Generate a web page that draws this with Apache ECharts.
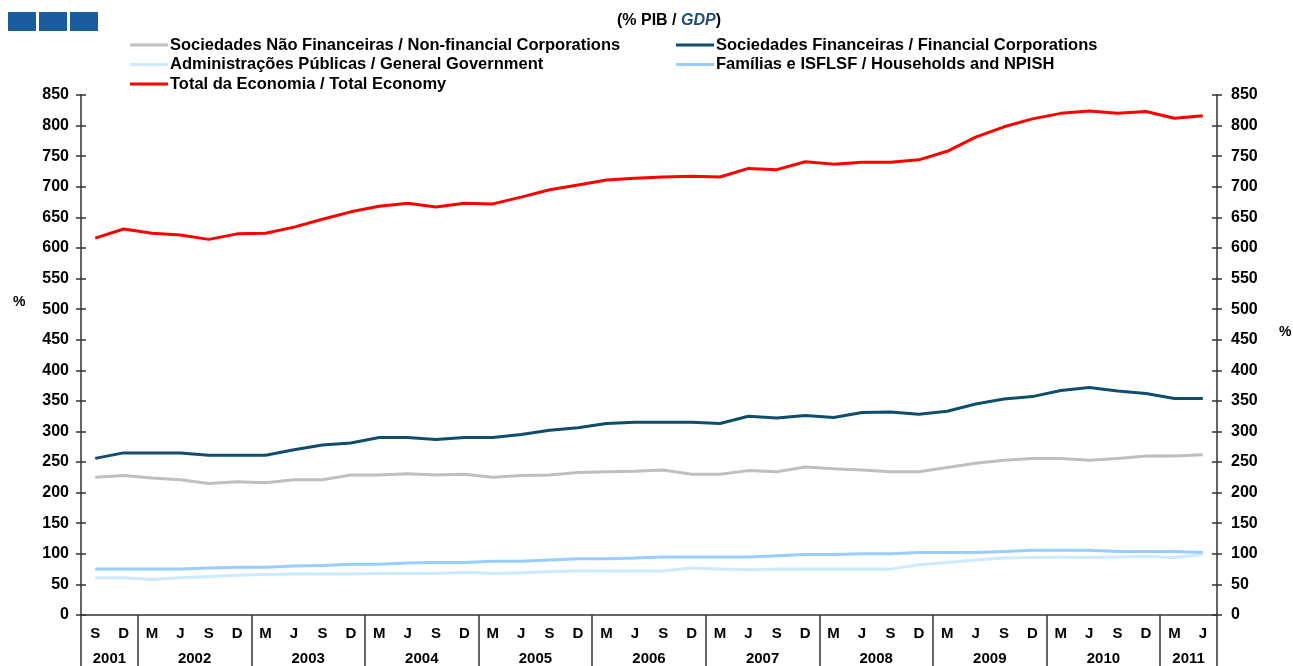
<!DOCTYPE html>
<html>
<head>
<meta charset="utf-8">
<script src="https://cdn.jsdelivr.net/npm/echarts@6/dist/echarts.min.js"></script>
<style>
html, body { margin: 0; padding: 0; background: #fff; }
#chart { width: 1293px; height: 666px; }
</style>
</head>
<body>
<div id="chart"></div>
<script>
// trimestres: S/D 2001, M/J/S/D 2002-2010, M/J 2011
var months = ['S','D',
  'M','J','S','D', 'M','J','S','D', 'M','J','S','D', 'M','J','S','D', 'M','J','S','D',
  'M','J','S','D', 'M','J','S','D', 'M','J','S','D', 'M','J','S','D',
  'M','J'];
var years = ['2001','2001',
  '2002','2002','2002','2002', '2003','2003','2003','2003', '2004','2004','2004','2004',
  '2005','2005','2005','2005', '2006','2006','2006','2006', '2007','2007','2007','2007',
  '2008','2008','2008','2008', '2009','2009','2009','2009', '2010','2010','2010','2010',
  '2011','2011'];

var naoFinanceiras = [225,228,224,221,215,218,216,221,221,229,229,231,229,230,
  225,228,229,233,234,235,237,230,230,236,234,242,
  239,237,234,234,241,248,253,256,256,253,256,260,260,262];
var financeiras = [256,265,265,265,261,261,261,270,278,281,290,290,287,290,
  290,295,302,306,313,315,315,315,313,325,322,326,
  323,331,332,328,333,345,353,357,367,372,366,362,354,354];
var adminPublicas = [61,61,58,61,63,65,66,67,67,67,68,68,68,
  70,68,69,71,72,72,72,72,77,75,74,75,75,
  75,75,75,82,86,90,93,94,95,94,95,96,94,99];
var familias = [75,75,75,75,77,78,78,80,81,83,83,85,86,
  86,88,88,90,92,92,93,95,95,95,95,97,99,
  99,100,100,102,102,102,104,106,106,106,104,104,104,102];
var totalEconomia = [616,631,624,621,614,623,624,634,647,659,668,673,667,673,
  672,683,695,703,711,714,716,717,716,730,728,741,
  737,740,740,744,758,781,798,811,820,824,820,823,812,816];

var names = [
  'Sociedades Não Financeiras / Non-financial Corporations',
  'Sociedades Financeiras / Financial Corporations',
  'Administrações Públicas / General Government',
  'Famílias e ISFLSF / Households and NPISH',
  'Total da Economia / Total Economy'
];

// limites e centros dos anos no eixo (em unidades de categoria)
var yearEdges = [0], yearCenters = [], yearLabels = [];
var start = 0;
for (var i = 1; i <= years.length; i++) {
  if (i == years.length || years[i] != years[start]) {
    yearEdges.push(i);
    yearCenters.push((start + i) / 2);
    yearLabels.push(years[start]);
    start = i;
  }
}

var font = 'Liberation Sans, Arial, sans-serif';
var axisColor = '#333';

function line(name, data, color) {
  return {
    name: name,
    type: 'line',
    data: data,
    symbol: 'none',
    showSymbol: false,
    color: color,
    lineStyle: { width: 3, color: color },
    animation: false
  };
}

var yBase = {
  type: 'value',
  min: 0,
  max: 850,
  interval: 50,
  splitLine: { show: false }
};

var legendText = { fontFamily: font, fontSize: 16.5, fontWeight: 'bold', color: '#000', lineHeight: 18, padding: [0, 0, 0, -3] };

var myChart = echarts.init(document.getElementById('chart'));
option = {
  backgroundColor: '#fff',
  textStyle: { fontFamily: font },
  title: {
    text: '(% PIB / {g|GDP})',
    left: 612,
    top: 8,
    textStyle: {
      fontFamily: font,
      fontSize: 16,
      fontWeight: 'bold',
      color: '#000',
      rich: {
        g: { fontFamily: font, fontSize: 16, fontWeight: 'bold', fontStyle: 'italic', color: '#1F4E79' }
      }
    }
  },
  legend: [{
    left: 125,
    top: 31,
    orient: 'vertical',
    icon: 'rect',
    itemWidth: 38,
    itemHeight: 3,
    itemGap: 1.5,
    textStyle: legendText,
    data: [names[0], names[2], names[4]]
  }, {
    left: 671,
    top: 31,
    orient: 'vertical',
    icon: 'rect',
    itemWidth: 38,
    itemHeight: 3,
    itemGap: 1.5,
    textStyle: legendText,
    data: [names[1], names[3]]
  }],
  grid: { left: 81, right: 76, top: 95, bottom: 51 },
  xAxis: [{
    type: 'category',
    data: months,
    boundaryGap: true,
    axisLine: { lineStyle: { color: axisColor, width: 1.5 } },
    axisTick: { interval: 0, length: 33, lineStyle: { color: axisColor, width: 1.5 } },
    axisLabel: { interval: 0, margin: 11, fontFamily: font, fontSize: 15, fontWeight: 'bold', color: '#000' },
    splitLine: { show: false }
  }, {
    type: 'value',
    position: 'bottom',
    min: 0,
    max: years.length,
    axisLine: { show: false },
    splitLine: { show: false },
    axisTick: { show: true, customValues: yearEdges, length: 51, lineStyle: { color: axisColor, width: 1.5 } },
    axisLabel: {
      customValues: yearCenters,
      margin: 36,
      fontFamily: font, fontSize: 15, fontWeight: 'bold', color: '#000',
      formatter: function (v) {
        var k = yearCenters.indexOf(v);
        return k >= 0 ? yearLabels[k] : '';
      }
    }
  }],
  yAxis: [
    Object.assign({}, yBase, {
      position: 'left',
      axisLine: { show: true, lineStyle: { color: axisColor, width: 1.5 } },
      axisTick: { show: true, length: 5, lineStyle: { color: axisColor, width: 1.5 } },
      axisLabel: { margin: 12, fontFamily: font, fontSize: 16, fontWeight: 'bold', color: '#000' }
    }),
    Object.assign({}, yBase, {
      position: 'right',
      axisLine: { show: true, lineStyle: { color: axisColor, width: 1.5 } },
      axisTick: { show: true, length: 5, lineStyle: { color: axisColor, width: 1.5 } },
      axisLabel: { margin: 14, fontFamily: font, fontSize: 16, fontWeight: 'bold', color: '#000' }
    }),
    Object.assign({}, yBase, {
      position: 'left',
      axisLine: { show: false },
      axisTick: { show: true, inside: true, length: 5, lineStyle: { color: axisColor, width: 1.5 } },
      axisLabel: { show: false }
    }),
    Object.assign({}, yBase, {
      position: 'right',
      axisLine: { show: false },
      axisTick: { show: true, inside: true, length: 5, lineStyle: { color: axisColor, width: 1.5 } },
      axisLabel: { show: false }
    })
  ],
  graphic: [
    { type: 'rect', left: 8, top: 12, shape: { width: 28, height: 19 }, style: { fill: '#1A5C9C' } },
    { type: 'rect', left: 39, top: 12, shape: { width: 28, height: 19 }, style: { fill: '#1A5C9C' } },
    { type: 'rect', left: 70, top: 12, shape: { width: 28, height: 19 }, style: { fill: '#1A5C9C' } },
    { type: 'text', left: 13, top: 295, style: { text: '%', font: 'bold 14px ' + font, fill: '#000' } },
    { type: 'text', left: 1279, top: 325, style: { text: '%', font: 'bold 14px ' + font, fill: '#000' } }
  ],
  series: [
    line(names[0], naoFinanceiras, '#BFBFBF'),
    line(names[1], financeiras, '#0E4D6C'),
    line(names[2], adminPublicas, '#CCEBFF'),
    line(names[3], familias, '#99CCFF'),
    line(names[4], totalEconomia, '#FF0000')
  ]
};
myChart.setOption(option);
</script>
</body>
</html>
